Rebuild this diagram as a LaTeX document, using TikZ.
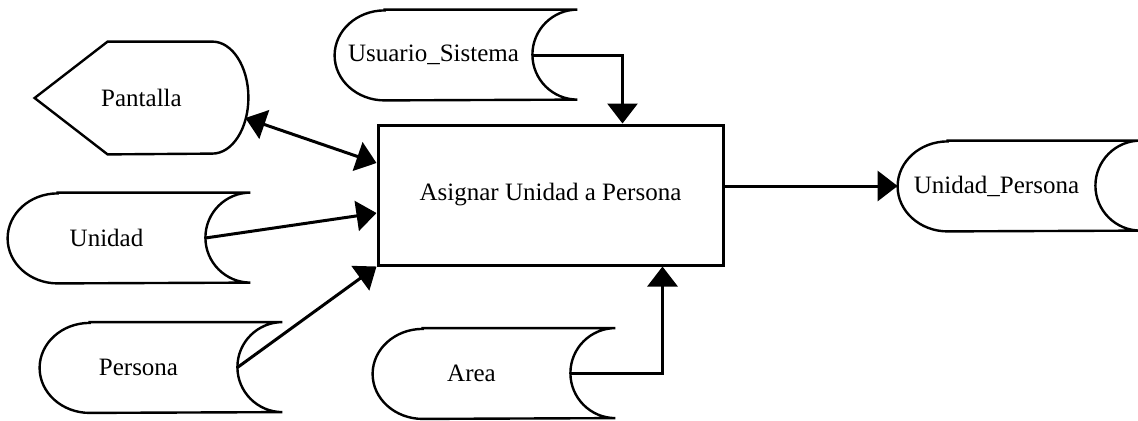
\documentclass[tikz,border=0pt]{standalone}
\usepackage{fontspec}
\setmainfont{Liberation Serif}
\usetikzlibrary{arrows.meta,positioning,calc}
\tikzset{
  flow/.style={-{Triangle[length=10pt,width=15pt]},line width=1.5pt,draw=black},
  twoway/.style={flow,{Triangle[length=10pt,width=15pt]}-{Triangle[length=10pt,width=15pt]}},
  outline/.style={line width=1.2pt,draw=black},
  label text/.style={font=\fontsize{12.5}{15}\selectfont,inner sep=0pt},
  store/.style={label text,minimum width=98.5pt,minimum height=45pt},
  screen/.style={label text,minimum width=106.5pt,minimum height=56pt},
  process/.style={label text,draw=black,line width=1.5pt,minimum width=172.5pt,minimum height=70pt}
}
% data store: round left end, hollow right end
\newcommand{\storeline}[1]{\draw[outline] ([xshift=25pt]#1.north west) -- ([xshift=22.5pt]#1.north east)
  arc[start angle=90,end angle=270,radius=22.5pt] -- ([xshift=25pt]#1.south west)
  arc[start angle=270,end angle=90,x radius=25pt,y radius=22.5pt] -- cycle;}
% display symbol
\newcommand{\screenline}[1]{\draw[outline] (#1.west) -- ([xshift=36.5pt]#1.north west) -- ([xshift=-18pt]#1.north east)
  arc[start angle=90,end angle=-90,x radius=18pt,y radius=28pt] -- ([xshift=36.5pt]#1.south west) -- cycle;}

\begin{document}
\begin{tikzpicture}[x=0.5pt,y=0.5pt]
  \useasboundingbox (0,0) rectangle (1138,420);
  \node[process] (asig) at (550.5,225) {Asignar Unidad a Persona};
  \node[screen] (pant) at (141.5,322) {Pantalla};
  \node[store] (uni) at (106.5,182) {Unidad};
  \node[store] (per) at (138.5,52.5) {Persona};
  \node[store] (usu) at (433.5,365) {Usuario\_Sistema};
  \node[store] (area) at (471.5,46.5) {Area};
  \node[store] (unper) at (996.5,234) {Unidad\_Persona};

  \screenline{pant}
  \foreach \s in {uni,per,usu,area,unper} {\storeline{\s}}

  \draw[twoway] ([shift={(-1.5pt,-10pt)}]pant.east) -- ([yshift=16pt]asig.west);
  \draw[flow] (uni.east) -- ([yshift=-9pt]asig.west);
  \draw[flow] (per.east) -- (asig.south west);
  \draw[flow] (usu.east) -| ([xshift=36pt]asig.north);
  \draw[flow] (area.east) -| ([xshift=56pt]asig.south);
  \draw[flow] (asig.east |- unper.west) -- (unper.west);
\end{tikzpicture}
\end{document}
